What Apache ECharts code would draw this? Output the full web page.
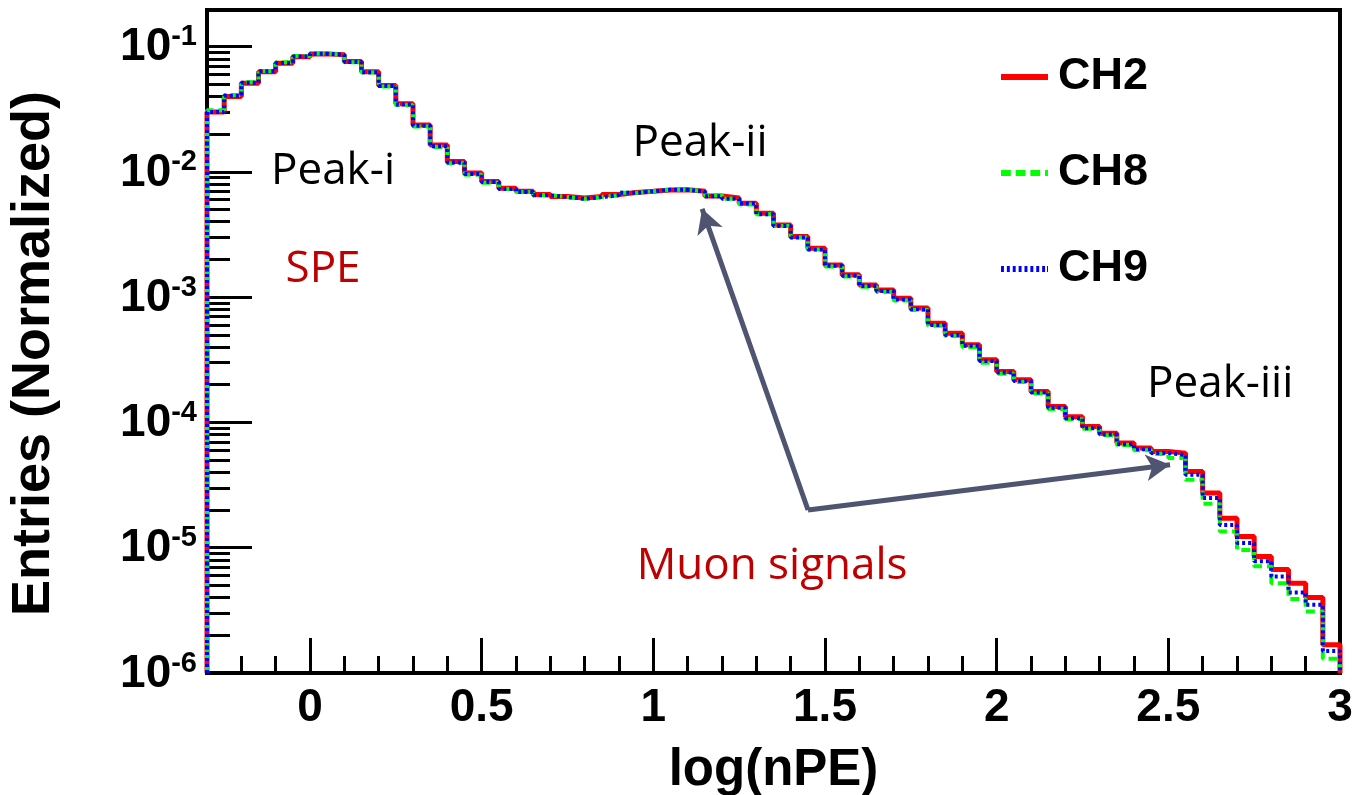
<!DOCTYPE html>
<html>
<head>
<meta charset="utf-8">
<script src="https://cdn.jsdelivr.net/npm/echarts@6/dist/echarts.min.js"></script>
<style>
  html, body { margin: 0; padding: 0; background: #fff; }
  #chart { width: 1352px; height: 795px; }
</style>
</head>
<body>
<div id="chart"></div>
<script>
// Histogram binning of log(nPE): 66 bins of width 0.05 from -0.3 to 3.0
const binStart = -0.3;
const binWidth = 0.05;

// Normalized entries per bin
const ch2 = [
  0.030, 0.040, 0.051, 0.063, 0.0736, 0.083, 0.0875, 0.086, 0.076, 0.063,
  0.049, 0.035, 0.0237, 0.0164, 0.0121, 0.0098, 0.0084, 0.0074, 0.0070, 0.0066,
  0.00635, 0.0062, 0.00635, 0.0066, 0.00684, 0.0070, 0.00718, 0.0072, 0.0070, 0.00643,
  0.0062, 0.00562, 0.00468, 0.00377, 0.00305, 0.00246, 0.00181, 0.00151, 0.00125, 0.00114,
  0.00098, 0.00082, 0.00062, 0.000516, 0.000417, 0.000316, 0.000255, 0.000219, 0.000177, 0.000134,
  0.000111, 0.0000927, 0.000082, 0.0000684, 0.0000624, 0.0000586, 0.0000569, 0.0000406, 0.0000273, 0.0000172,
  0.0000123, 0.0000085, 0.0000067, 0.0000052, 0.0000040, 0.00000168
];
const ch8 = [
  0.031, 0.041, 0.052, 0.064, 0.075, 0.084, 0.088, 0.086, 0.075, 0.062,
  0.048, 0.034, 0.0230, 0.0158, 0.0117, 0.0095, 0.0082, 0.0073, 0.0069, 0.0065,
  0.0063, 0.0061, 0.0063, 0.0065, 0.0068, 0.0070, 0.0072, 0.0072, 0.0070, 0.0065,
  0.0061, 0.0055, 0.0046, 0.0037, 0.0030, 0.0024, 0.00176, 0.00146, 0.00121, 0.00110,
  0.00094, 0.00079, 0.00059, 0.00049, 0.00040, 0.00030, 0.000245, 0.000210, 0.000170, 0.000128,
  0.000106, 0.000089, 0.000079, 0.000066, 0.000060, 0.000056, 0.000052, 0.0000348, 0.0000224, 0.0000135,
  0.0000096, 0.0000071, 0.0000052, 0.0000039, 0.0000031, 0.0000013
];
const ch9 = [
  0.030, 0.0405, 0.0515, 0.0635, 0.074, 0.0835, 0.0878, 0.0862, 0.0755, 0.0625,
  0.0485, 0.0345, 0.0233, 0.0160, 0.0119, 0.0096, 0.0083, 0.0073, 0.0069, 0.0065,
  0.0063, 0.0061, 0.0063, 0.0065, 0.0068, 0.0070, 0.0072, 0.0072, 0.0070, 0.0064,
  0.0061, 0.0056, 0.0046, 0.0037, 0.0030, 0.0024, 0.00178, 0.00148, 0.00123, 0.00112,
  0.00096, 0.00080, 0.00060, 0.00050, 0.00041, 0.00031, 0.000250, 0.000214, 0.000173, 0.000131,
  0.000108, 0.000090, 0.000080, 0.000067, 0.000061, 0.000057, 0.000055, 0.0000382, 0.0000249, 0.0000152,
  0.0000109, 0.0000078, 0.0000059, 0.0000044, 0.0000035, 0.0000015
];

// Axis ranges and tick values
const xMin = -0.3, xMax = 3.0;
const yMin = 1e-6, yMax = 0.196;
const xMajorTicks = [0, 0.5, 1, 1.5, 2, 2.5, 3];
const yMinorMantissas = [2, 3, 4, 5, 6, 7, 8, 9];
const yMinorDecades = [-6, -5, -4, -3, -2, -1];

// Text annotations placed in data coordinates [log(nPE), entries]
const notes = [
  { text: 'Peak-i', at: [0.067, 0.0100], color: '#000000' },
  { text: 'SPE', at: [0.038, 0.00165], color: '#bf0000' },
  { text: 'Peak-ii', at: [1.136, 0.0170], color: '#000000' },
  { text: 'Peak-iii', at: [2.651, 0.000200], color: '#000000' },
  { text: 'Muon signals', at: [1.346, 0.00000705], color: '#bf0000' }
];
// Arrows from the common origin to the two muon peaks
const arrowFrom = [1.4506, 0.0000200];
const arrowTips = [[1.142, 0.00507], [2.505, 0.0000459]];

const FONT = '"Liberation Sans", Arial, Helvetica, sans-serif';
const NOTE_FONT = '"Open Sans", "DejaVu Sans", sans-serif';

// Legend keys: solid, dashed and dotted strokes
const ICON_SOLID = 'path://M0,0H48V6H0Z';
const ICON_DASHED = 'path://M0,0H10V6H0Z M15,0H25V6H15Z M30,0H40V6H30Z M45,0H48V6H45Z';
const ICON_DOTTED = 'path://M0,0H3V6H0Z M6,0H9V6H6Z M12,0H15V6H12Z M18,0H21V6H18Z M24,0H27V6H24Z M30,0H33V6H30Z M36,0H39V6H36Z M42,0H45V6H42Z M47,0H48V6H47Z';

// Outline of a histogram as a step path through bin edges
function histPath(vals) {
  const pts = [[binStart, yMin]];
  vals.forEach((v, i) => {
    const lo = binStart + i * binWidth;
    pts.push([lo, v], [lo + binWidth, v]);
  });
  pts.push([binStart + vals.length * binWidth, yMin]);
  return pts;
}

// Minor tick positions of the log axis, in log10 space
const yMinorLog = [];
yMinorDecades.forEach(d => yMinorMantissas.forEach(m => {
  const v = m * Math.pow(10, d);
  if (v > yMin && v < yMax) yMinorLog.push(Math.log10(v));
}));

const chart = echarts.init(document.getElementById('chart'), null, { renderer: 'canvas' });

chart.setOption({
  backgroundColor: '#ffffff',
  animation: false,
  grid: {
    left: 207, right: 12, top: 10, bottom: 122,
    containLabel: false, outerBoundsMode: 'none',
    show: true, borderColor: '#000', borderWidth: 4, backgroundColor: 'transparent'
  },
  legend: {
    data: [
      { name: 'CH2', icon: ICON_SOLID, itemStyle: { color: '#ff0000' } },
      { name: 'CH8', icon: ICON_DASHED, itemStyle: { color: '#00ff00' } },
      { name: 'CH9', icon: ICON_DOTTED, itemStyle: { color: '#0000ff' } }
    ],
    orient: 'vertical',
    left: 996, top: 47,
    itemWidth: 47, itemHeight: 6, itemGap: 46,
    selectedMode: false,
    textStyle: { fontFamily: FONT, fontSize: 45, fontWeight: 'bold', color: '#000', lineHeight: 50, padding: [0, 0, 0, 5] }
  },
  xAxis: [
    {
      type: 'value', min: xMin, max: xMax, interval: 0.1,
      name: 'log(nPE)', nameLocation: 'middle', nameGap: 72,
      nameTextStyle: { fontFamily: FONT, fontSize: 51, fontWeight: 'bold', color: '#000' },
      axisLine: { show: true, onZero: false, lineStyle: { color: '#000', width: 4 } },
      axisTick: { show: true, inside: true, length: 17, lineStyle: { color: '#000', width: 3 } },
      axisLabel: {
        show: true, interval: 0, margin: 12, color: '#000',
        fontFamily: FONT, fontSize: 46, fontWeight: 'bold',
        formatter: v => {
          const m = xMajorTicks.find(t => Math.abs(t - v) < 1e-6);
          return m === undefined ? '' : String(m);
        }
      },
      splitLine: { show: false }
    },
    {
      type: 'value', min: xMin, max: xMax, position: 'bottom',
      axisLine: { show: false, onZero: false },
      axisTick: { show: true, inside: true, length: 35, customValues: xMajorTicks, lineStyle: { color: '#000', width: 3 } },
      axisLabel: { show: false },
      splitLine: { show: false }
    }
  ],
  yAxis: [
    {
      type: 'log', logBase: 10, min: yMin, max: yMax,
      name: 'Entries (Normalized)', nameLocation: 'middle', nameGap: 146,
      nameTextStyle: { fontFamily: FONT, fontSize: 54, fontWeight: 'bold', color: '#000', padding: [0, 24, 0, 0] },
      axisLine: { show: true, onZero: false, lineStyle: { color: '#000', width: 4 } },
      axisTick: { show: true, inside: true, length: 45, lineStyle: { color: '#000', width: 3 } },
      axisLabel: {
        show: true, margin: 10,
        formatter: v => '{b|10}{s|' + Math.round(Math.log10(v)) + '}',
        rich: {
          b: { fontFamily: FONT, fontSize: 46, fontWeight: 'bold', color: '#000', lineHeight: 48, verticalAlign: 'bottom' },
          s: { fontFamily: FONT, fontSize: 29, fontWeight: 'bold', color: '#000', lineHeight: 48, verticalAlign: 'top' }
        }
      },
      splitLine: { show: false },
      minorTick: { show: false }
    },
    {
      type: 'value', min: Math.log10(yMin), max: Math.log10(yMax), position: 'left',
      axisLine: { show: false, onZero: false },
      axisTick: { show: true, inside: true, length: 23, customValues: yMinorLog, lineStyle: { color: '#000', width: 3 } },
      axisLabel: { show: false },
      splitLine: { show: false }
    }
  ],
  series: [
    {
      name: 'CH2', type: 'line', xAxisIndex: 0, yAxisIndex: 0,
      data: histPath(ch2), symbol: 'none', showSymbol: false,
      lineStyle: { color: '#ff0000', width: 5, type: 'solid' },
      itemStyle: { color: '#ff0000' }, z: 2
    },
    {
      name: 'CH8', type: 'line', xAxisIndex: 0, yAxisIndex: 0,
      data: histPath(ch8), symbol: 'none', showSymbol: false,
      lineStyle: { color: '#00ff00', width: 4, type: [9, 5], cap: 'butt' },
      itemStyle: { color: '#00ff00' }, z: 3
    },
    {
      name: 'CH9', type: 'line', xAxisIndex: 0, yAxisIndex: 0,
      data: histPath(ch9), symbol: 'none', showSymbol: false,
      lineStyle: { color: '#0000ff', width: 4, type: [3, 3], cap: 'butt' },
      itemStyle: { color: '#0000ff' }, z: 4
    },
    {
      name: 'notes', type: 'scatter', xAxisIndex: 0, yAxisIndex: 0,
      symbolSize: 0, silent: true, z: 6,
      itemStyle: { opacity: 1 },
      data: notes.map(n => ({
        value: n.at,
        label: {
          show: true, position: 'inside', formatter: n.text,
          fontFamily: NOTE_FONT, fontSize: 44, color: n.color
        }
      })),
      markLine: {
        silent: true, animation: false,
        symbol: ['none', 'arrow'], symbolSize: [20, 24],
        label: { show: false },
        lineStyle: { color: '#4f5570', width: 5, type: 'solid', opacity: 1 },
        data: arrowTips.map(t => [{ coord: arrowFrom }, { coord: t }])
      }
    }
  ]
});
</script>
</body>
</html>
